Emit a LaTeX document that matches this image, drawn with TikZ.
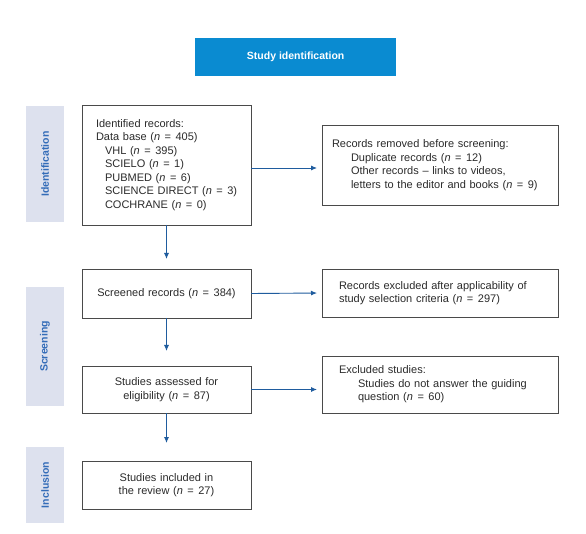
\documentclass[tikz,border=0pt]{standalone}
\usepackage{fontspec}
\setmainfont{Liberation Sans}
\usetikzlibrary{arrows.meta}
\definecolor{titleblue}{HTML}{0A8BD1}
\definecolor{arrowblue}{HTML}{1F5C9E}
\definecolor{bandfill}{HTML}{DDE1EE}
\definecolor{bandtext}{HTML}{336CB8}
\definecolor{boxline}{HTML}{4A4A4A}
\definecolor{txt}{HTML}{2B2B2B}
\newcommand{\nn}{\textit{n}}
\newcommand{\eqs}{\kern4.5pt=\kern4.5pt}
\begin{document}
\begin{tikzpicture}[x=1pt,y=-1pt,
  box/.style={draw=boxline, line width=0.9pt, fill=white, text=txt,
    font=\fontsize{11}{13.5}\selectfont, inner ysep=0pt, outer sep=0pt,
    anchor=north west},
  band/.style={fill=bandfill, text=bandtext, rotate=90, minimum height=38,
    font=\fontsize{10.5}{12}\selectfont\bfseries, inner sep=0pt, outer sep=0pt},
  arr/.style={draw=arrowblue, line width=0.9pt, -{Latex[length=6pt,width=5pt]}}]
\useasboundingbox (0,0) rectangle (586,534);
\fill[white] (0,0) rectangle (586,534);

% title
\node[fill=titleblue, text=white, font=\fontsize{10.5}{12}\selectfont\bfseries,
  minimum width=201, minimum height=38, inner sep=0pt, anchor=north west]
  (title) at (195,38) {Study identification};

% bands
\node[band, minimum width=116] (bid) at (45,164) {Identification};
\node[band, minimum width=119] (bsc) at (45,346.5) {Screening};
\node[band, minimum width=76] (bin) at (45,485) {Inclusion};

% boxes
\node[box, minimum width=169, minimum height=120, inner xsep=14, text width=141, align=left]
  (ident) at (82,105) {Identified records:\\
  Data base (\nn\eqs405)\\
  \hspace*{9pt}VHL (\nn\eqs395)\\
  \hspace*{9pt}SCIELO (\nn\eqs1)\\
  \hspace*{9pt}PUBMED (\nn\eqs6)\\
  \hspace*{9pt}\mbox{SCIENCE DIRECT (\nn\eqs3)}\\
  \hspace*{9pt}COCHRANE (\nn\eqs0)};

\node[box, minimum width=236, minimum height=80, inner xsep=10, text width=216, align=left]
  (removed) at (322,125) {Records removed before screening:\\
  \hspace*{19pt}Duplicate records (\nn\eqs12)\\
  \hspace*{19pt}Other records -- links to videos,\\
  \hspace*{19pt}\mbox{letters to the editor and books (\nn\eqs9)}};

\node[box, minimum width=169, minimum height=49, inner xsep=4, text width=161, align=center]
  (screened) at (82,269) {Screened records (\nn\eqs384)};

\node[box, minimum width=236, minimum height=48, inner xsep=17, text width=202, align=left]
  (exclA) at (322,269) {Records excluded after applicability of\\
  study selection criteria (\nn\eqs297)};

\node[box, minimum width=169, minimum height=47, inner xsep=4, text width=161, align=center]
  (assessed) at (82,366) {Studies assessed for\\ eligibility (\nn\eqs87)};

\node[box, minimum width=236, minimum height=57, inner xsep=17, text width=202, align=left]
  (exclB) at (322,356) {Excluded studies:\\
  \hspace*{19pt}Studies do not answer the guiding\\
  \hspace*{19pt}question (\nn\eqs60)};

\node[box, minimum width=169, minimum height=48, inner xsep=4, text width=161, align=center]
  (included) at (82,461) {Studies included in\\ the review (\nn\eqs27)};

% arrows
\draw[arr, shorten >=10pt] (ident.south) -- (screened.north);
\draw[arr, shorten >=15pt] (screened.south) -- (assessed.north);
\draw[arr, shorten >=18pt] (assessed.south) -- (included.north);
\draw[arr, shorten >=5pt] ([yshift=-3pt]ident.east) -- ([yshift=-3pt]removed.west);
\draw[arr, shorten >=5pt] (screened.east) -- (exclA.west);
\draw[arr, shorten >=5pt] (assessed.east) -- (assessed.east -| exclB.west);
\end{tikzpicture}
\end{document}
